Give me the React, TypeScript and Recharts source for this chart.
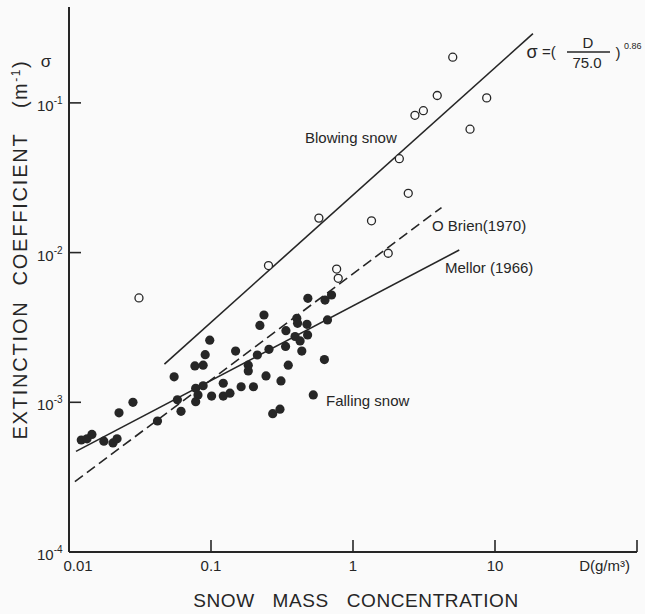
import { ComposedChart, Scatter, Line, XAxis, YAxis } from "recharts";

const INK = "#262626";
const BG = "#fafafa";
const FONT = "'Liberation Sans', Arial, sans-serif";

const W = 645;
const H = 614;
const LEFT = 69;
const BOTTOM = 552;

// axis ticks
const xTicks = [0.01, 0.1, 1, 10, 100];
const xTickLabels = ["0.01", "0.1", "1", "10", "D(g/m\u00b3)"];
const yTicks = [0.0001, 0.001, 0.01, 0.1];
const yTickExps = ["-4", "-3", "-2", "-1"];

// falling snow (filled dots)
const fallingX = [
  0.0122, 0.0134, 0.0145, 0.0176, 0.0204, 0.0218, 0.0225, 0.0282, 0.042, 0.055,
  0.058, 0.0615, 0.077, 0.088, 0.091, 0.098, 0.078, 0.088, 0.081, 0.078,
  0.101, 0.122, 0.122, 0.136, 0.163, 0.199, 0.149, 0.183, 0.183, 0.212,
  0.244, 0.311, 0.221, 0.236, 0.256, 0.335, 0.337, 0.35, 0.391, 0.424,
  0.436, 0.402, 0.407, 0.474, 0.479, 0.481, 0.635, 0.706, 0.661, 0.629,
  0.525, 0.272, 0.306,
];
const fallingY = [
  5.6e-4, 5.7e-4, 6.1e-4, 5.5e-4, 5.35e-4, 5.7e-4, 8.5e-4, 1.0e-3, 7.5e-4, 1.48e-3,
  1.04e-3, 8.7e-4, 1.75e-3, 1.77e-3, 2.08e-3, 2.6e-3, 1.24e-3, 1.29e-3, 1.12e-3, 1.01e-3,
  1.1e-3, 1.34e-3, 1.1e-3, 1.15e-3, 1.27e-3, 1.27e-3, 2.2e-3, 1.77e-3, 1.62e-3, 2.07e-3,
  1.5e-3, 1.39e-3, 3.26e-3, 3.83e-3, 2.26e-3, 2.36e-3, 3.01e-3, 1.77e-3, 2.75e-3, 2.57e-3,
  2.2e-3, 3.64e-3, 3.37e-3, 3.32e-3, 2.82e-3, 4.95e-3, 4.82e-3, 5.21e-3, 3.55e-3, 1.93e-3,
  1.12e-3, 8.4e-4, 9.0e-4,
];

// blowing snow (open circles)
const blowingX = [0.0311, 0.254, 0.575, 0.767, 0.787, 1.35, 1.77, 2.12, 2.45, 2.73, 3.13, 3.92, 5.04, 6.67, 8.74];
const blowingY = [4.98e-3, 8.19e-3, 0.017, 7.76e-3, 6.73e-3, 0.0163, 9.9e-3, 0.0424, 0.0249, 0.0826, 0.0887, 0.112, 0.202, 0.0667, 0.108];

// fitted lines (end points)
const fitX = [0.047, 18.5];
const fitY = [0.0018, 0.29];
const mellorX = [0.0112, 5.6];
const mellorY = [4.7e-4, 0.0104];
const brienX = [0.011, 4.2];
const brienY = [2.95e-4, 0.02];

const zip = (xs: number[], ys: number[]) => xs.map((x, i) => ({ x, y: ys[i] }));
const falling = zip(fallingX, fallingY);
const blowing = zip(blowingX, blowingY);
const fitLine = zip(fitX, fitY);
const mellorLine = zip(mellorX, mellorY);
const brienLine = zip(brienX, brienY);

function XTick(props: any) {
  const { x, index } = props;
  const label = xTickLabels[index];
  let tx = x;
  let anchor = "middle";
  if (index === 0) tx = x + 9;
  if (index === xTicks.length - 1) {
    tx = x - 7;
    anchor = "end";
  }
  return (
    <g>
      <line x1={x} x2={x} y1={BOTTOM} y2={BOTTOM - 12} stroke={INK} strokeWidth={1.6} />
      <text x={tx} y={BOTTOM + 19} textAnchor={anchor} fontSize={15} fill={INK} fontFamily={FONT}>
        {label}
      </text>
    </g>
  );
}

function YTick(props: any) {
  const { y, index } = props;
  return (
    <g>
      <line x1={LEFT} x2={LEFT + 12} y1={y} y2={y} stroke={INK} strokeWidth={1.6} />
      <text x={37} y={y + 8} fontSize={15} fill={INK} fontFamily={FONT}>
        10
        <tspan dy={-7} fontSize={10}>
          {yTickExps[index]}
        </tspan>
      </text>
    </g>
  );
}

const FilledDot = (p: any) => <circle cx={p.cx} cy={p.cy} r={4.6} fill={INK} />;
const OpenDot = (p: any) => (
  <circle cx={p.cx} cy={p.cy} r={4} fill={BG} stroke={INK} strokeWidth={1.3} />
);

const txt = { fill: INK, fontFamily: FONT } as const;

export default function App() {
  return (
    <div style={{ position: "absolute", left: 0, top: 0, width: W, height: H, background: BG }}>
      <ComposedChart width={W} height={H} margin={{ top: 7, right: 8, left: 0, bottom: 0 }}>
        <XAxis
          dataKey="x"
          type="number"
          scale="log"
          domain={[0.01, 100]}
          ticks={xTicks}
          interval={0}
          allowDataOverflow
          height={62}
          axisLine={{ stroke: INK, strokeWidth: 2 }}
          tickLine={false}
          tick={(p: any) => <XTick {...p} />}
        />
        <YAxis
          dataKey="y"
          type="number"
          scale="log"
          domain={[0.0001, 0.437]}
          ticks={yTicks}
          interval={0}
          allowDataOverflow
          width={69}
          axisLine={{ stroke: INK, strokeWidth: 2 }}
          tickLine={false}
          tick={(p: any) => <YTick {...p} />}
        />
        <Line data={fitLine} dataKey="y" stroke={INK} strokeWidth={1.6} dot={false} isAnimationActive={false} />
        <Line data={mellorLine} dataKey="y" stroke={INK} strokeWidth={1.6} dot={false} isAnimationActive={false} />
        <Line
          data={brienLine}
          dataKey="y"
          stroke={INK}
          strokeWidth={1.6}
          strokeDasharray="10 5"
          dot={false}
          isAnimationActive={false}
        />
        <Scatter data={falling} dataKey="y" shape={FilledDot} isAnimationActive={false} />
        <Scatter data={blowing} dataKey="y" shape={OpenDot} isAnimationActive={false} />
      </ComposedChart>
      <svg
        width={W}
        height={H}
        style={{ position: "absolute", left: 0, top: 0, pointerEvents: "none" }}
      >
        {/* y axis title, three words spaced apart */}
        <text transform="translate(27,370) rotate(-90)" textAnchor="middle" fontSize={20} letterSpacing={1.8} {...txt}>
          EXTINCTION
        </text>
        <text transform="translate(27,209) rotate(-90)" textAnchor="middle" fontSize={20} letterSpacing={1.8} {...txt}>
          COEFFICIENT
        </text>
        <text transform="translate(27,84) rotate(-90)" textAnchor="middle" fontSize={20} letterSpacing={1.5} {...txt}>
          (m<tspan dy={-7} fontSize={12}>-1</tspan><tspan dy={7}>)</tspan>
        </text>
        <text x={46} y={67} textAnchor="middle" fontSize={17} {...txt}>σ</text>

        <text x={356} y={607} textAnchor="middle" fontSize={19} letterSpacing={0.6} wordSpacing={12} {...txt}>
          SNOW MASS CONCENTRATION
        </text>

        <text x={305} y={143} fontSize={15} {...txt}>Blowing snow</text>
        <text x={432} y={231} fontSize={15} {...txt}>O Brien(1970)</text>
        <text x={445} y={273} fontSize={15} {...txt}>Mellor (1966)</text>
        <text x={326} y={406} fontSize={15} {...txt}>Falling snow</text>

        {/* formula */}
        <text x={532} y={58} textAnchor="middle" fontSize={18} {...txt}>σ</text>
        <text x={549} y={57} textAnchor="middle" fontSize={15} {...txt}>=(</text>
        <text x={588} y={48} textAnchor="middle" fontSize={15} {...txt}>D</text>
        <line x1={567} x2={610} y1={52} y2={52} stroke={INK} strokeWidth={1.3} />
        <text x={587} y={68} textAnchor="middle" fontSize={15} {...txt}>75.0</text>
        <text x={618} y={58} textAnchor="middle" fontSize={15} {...txt}>)</text>
        <text x={624} y={49} fontSize={9} {...txt}>0.86</text>
      </svg>
    </div>
  );
}
